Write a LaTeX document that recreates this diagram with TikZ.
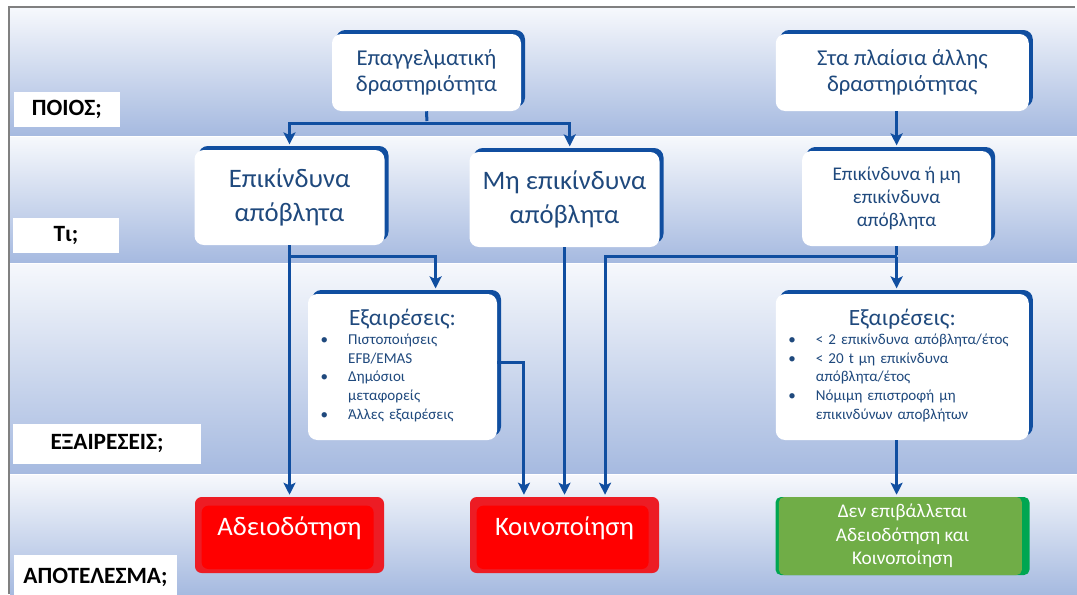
\documentclass[tikz,border=0pt]{standalone}
\usepackage{fontspec}
\setmainfont{Carlito}
\usetikzlibrary{arrows.meta,shadows}
\definecolor{bandtop}{RGB}{246,248,252}
\definecolor{bandbot}{RGB}{166,186,224}
\definecolor{linkblue}{RGB}{16,78,160}
\definecolor{boxtext}{RGB}{31,73,125}
\definecolor{redrim}{RGB}{237,28,36}
\definecolor{redcore}{RGB}{255,0,0}
\definecolor{greenrim}{RGB}{0,166,81}
\definecolor{greencore}{RGB}{112,173,71}
\newcommand{\exhead}{\makebox[\hsize]{\fontsize{17.5}{21}\selectfont Εξαιρέσεις:}}
\begin{document}
\begin{tikzpicture}[x=0.75pt,y=-0.75pt,shorten >=1.5pt,
  band/.style={top color=bandtop,bottom color=bandbot,draw=none},
  tag node/.style={rectangle,fill=white,inner sep=0pt,font=\fontsize{17.5}{20}\selectfont\bfseries},
  main node/.style={rectangle,rounded corners=7pt,fill=white,text=boxtext,align=center,inner sep=0pt,
    drop shadow={shadow xshift=3pt,shadow yshift=3pt,fill=linkblue,opacity=1}},
  ex node/.style={main node,align=left,inner xsep=9.5pt,minimum height=109.5pt,font=\fontsize{11.3}{14}\selectfont},
  red node/.style={rectangle,rounded corners=5pt,fill=redrim,text=white,minimum width=141.75pt,minimum height=57pt,
    font=\fontsize{20}{24}\selectfont,text height=10pt,text depth=10pt,
    path picture={\fill[redcore] ([xshift=5pt,yshift=3pt]path picture bounding box.south west) rectangle ([xshift=-7.8pt,yshift=-6.5pt]path picture bounding box.north east);}},
  green node/.style={rectangle,rounded corners=4pt,fill=greenrim,text=white,align=center,minimum width=190.5pt,minimum height=58.5pt,
    font=\fontsize{14.5}{17.5}\selectfont,
    path picture={\fill[greencore] ([xshift=2.5pt]path picture bounding box.south west) rectangle ([xshift=-5.7pt]path picture bounding box.north east);}},
  link/.style={draw=linkblue,line width=2.25pt},
  arr/.style={link,-{Stealth[length=9pt,width=9pt,inset=2pt]}}]
\useasboundingbox (0,0) rectangle (1077,594);
\fill[white] (0,0) rectangle (1077,594);
% bands
\shade[band] (10,8) rectangle (1077,135);
\shade[band] (10,137) rectangle (1077,262);
\shade[band] (10,264) rectangle (1077,473);
\shade[band] (10,475) rectangle (1077,594);
\draw[gray,line width=1.5pt] (9,594) |- (1077,7);
% row labels
\begin{scope}[every node/.style={tag node}]
\node [minimum width=79.5pt,minimum height=26.25pt](poios) at (66.8,109.2) {ΠΟΙΟΣ;};
\node [minimum width=79.5pt,minimum height=26.25pt](ti) at (66,235.5) {Τι;};
\node [minimum width=141pt,minimum height=30pt](exlbl) at (107,444) {ΕΞΑΙΡΕΣΕΙΣ;};
\node [minimum width=122.6pt,minimum height=33pt](apolbl) at (95.5,577) {ΑΠΟΤΕΛΕΣΜΑ;};
\end{scope}
% boxes
\begin{scope}[every node/.append style={font=\fontsize{17}{20}\selectfont}]
\node [main node,minimum width=141.75pt,minimum height=57.75pt](prof) at (426.5,72.5) {Επαγγελματική\\δραστηριότητα};
\node [main node,minimum width=189.75pt,minimum height=57.75pt](other) at (902.3,72.5) {Στα πλαίσια άλλης\\δραστηριότητας};
\end{scope}
\begin{scope}[every node/.append style={font=\fontsize{20}{25}\selectfont}]
\node [main node,minimum width=142.5pt,minimum height=71.25pt](haz) at (289.5,197.5) {Επικίνδυνα\\απόβλητα};
\node [main node,minimum width=142.5pt,minimum height=71.25pt](nonhaz) at (564.5,199.5) {Μη επικίνδυνα\\απόβλητα};
\end{scope}
\node [main node,minimum width=141.75pt,minimum height=71.25pt,font=\fontsize{14.5}{17.5}\selectfont](either) at (896.6,198.5) {Επικίνδυνα ή μη\\επικίνδυνα\\απόβλητα};
\node [ex node,text width=122.75pt,minimum width=141.75pt](exA) at (402.5,367) {\exhead\\
  \begin{tabular}[t]{@{}l@{\hspace{15pt}}l@{}}
  • & Πιστοποιήσεις\\
    & EFB/EMAS\\
  • & Δημόσιοι\\
    & μεταφορείς\\
  • & Άλλες εξαιρέσεις
  \end{tabular}};
\node [ex node,text width=170.75pt,minimum width=189.75pt](exB) at (902.3,367) {\exhead\\
  \begin{tabular}[t]{@{}l@{\hspace{15pt}}l@{}}
  • & < 2 επικίνδυνα απόβλητα/έτος\\
  • & < 20 t μη επικίνδυνα\\
    & απόβλητα/έτος\\
  • & Νόμιμη επιστροφή μη\\
    & επικινδύνων αποβλήτων
  \end{tabular}};
\node [red node](lic) at (289.5,535) {Αδειοδότηση};
\node [red node](notif) at (564.5,535) {Κοινοποίηση};
\node [green node](none) at (902.5,536) {Δεν επιβάλλεται\\Αδειοδότηση και\\Κοινοποίηση};
% connectors
\coordinate (j1) at (427,123);
\coordinate (j2) at (289.5,256.7);
\coordinate (j3) at (896.6,256.7);
\draw[link] (prof.south) -- (j1);
\draw[arr,shorten >=4pt] (j1) -| (haz.north);
\draw[arr,shorten >=4pt] (j1) -| ([xshift=3.9pt]nonhaz.north);
\draw[arr,shorten >=4pt] (other.south -| either.north) -- (either.north);
\draw[arr] (haz.south) -- (lic.north);
\draw[arr,shorten >=4pt] (j2) -| ([xshift=24.8pt]exA.north);
\draw[arr] ([yshift=3.2pt]exA.east) -| ([xshift=-30.4pt]notif.north);
\draw[arr] (nonhaz.south) -- (notif.north);
\draw[link] (either.south) -- (j3);
\draw[arr] (j3) -| ([xshift=30.4pt]notif.north);
\draw[arr,shorten >=4pt] (j3) -- (j3 |- exB.north);
\draw[arr] (j3 |- exB.south) -- (j3 |- none.north);
\end{tikzpicture}
\end{document}
